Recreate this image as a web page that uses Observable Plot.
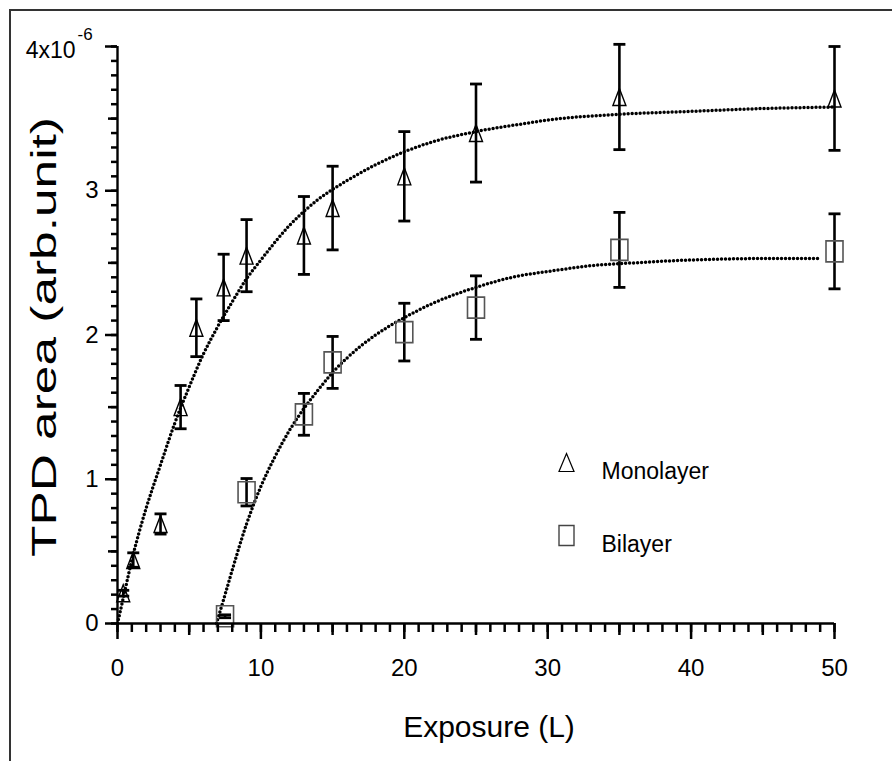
<!DOCTYPE html>
<html><head><meta charset="utf-8">
<script src="https://cdn.jsdelivr.net/npm/d3@7"></script>
<script src="https://cdn.jsdelivr.net/npm/@observablehq/plot@0.6"></script>
<style>
html,body{margin:0;padding:0;background:#fff;}
#wrap{position:relative;width:892px;height:761px;overflow:hidden;}
#frame{position:absolute;left:9px;top:9px;width:900px;height:800px;border-top:2px solid #333;border-left:2px solid #333;box-sizing:border-box;pointer-events:none;}
#chart{position:absolute;left:0;top:0;}
</style></head><body>
<div id="wrap"><div id="chart"></div><div id="frame"></div></div>
<script>
// Monolayer (triangles): exposure (L), TPD area (x10^-6 arb.unit), error
const monoX   = [0.4, 1.1, 3, 4.4, 5.5, 7.4, 9, 13, 15, 20, 25, 35, 50];
const monoY   = [0.21, 0.44, 0.69, 1.50, 2.05, 2.33, 2.55, 2.69, 2.88, 3.10, 3.40, 3.65, 3.64];
const monoErr = [0.02, 0.05, 0.07, 0.15, 0.20, 0.23, 0.25, 0.27, 0.29, 0.31, 0.34, 0.365, 0.36];
// Bilayer (squares)
const biX   = [7.5, 9, 13, 15, 20, 25, 35, 50];
const biY   = [0.05, 0.91, 1.45, 1.81, 2.02, 2.19, 2.59, 2.58];
const biErr = [0.01, 0.095, 0.145, 0.18, 0.20, 0.22, 0.26, 0.26];
// Fit curves (dotted)
const monoFitX = [0, 0.5, 1, 1.5, 2, 3, 4, 5, 6, 7, 8, 9, 10, 12, 14, 16, 18, 20, 22, 25, 28, 30, 35, 40, 45, 50];
const monoFitY = [0, 0.22, 0.44, 0.63, 0.80, 1.10, 1.39, 1.64, 1.87, 2.06, 2.23, 2.39, 2.52, 2.76, 2.94, 3.07, 3.18, 3.27, 3.34, 3.41, 3.46, 3.49, 3.53, 3.55, 3.57, 3.58];
const biFitX = [6.9, 7.5, 8, 9, 10, 11, 12, 13, 14, 15, 16, 18, 20, 22, 25, 28, 30, 33, 36, 40, 45, 49];
const biFitY = [0, 0.20, 0.37, 0.69, 0.95, 1.16, 1.34, 1.49, 1.62, 1.74, 1.84, 2.00, 2.12, 2.22, 2.33, 2.41, 2.44, 2.48, 2.50, 2.52, 2.53, 2.53];
// Axis ticks and labels
const xMajor = [0, 10, 20, 30, 40, 50];
const xMid = [5, 15, 25, 35, 45];
const yMajor = [0, 1, 2, 3, 4];
const yLabels = [0, 1, 2, 3];
const yTopLabel = "4x10";
const yTopExp = "-6";
const xTitle = "Exposure (L)";
const yTitle = "TPD area (arb.unit)";
const seriesNames = ["Monolayer", "Bilayer"];

const mono = monoX.map((x, i) => ({x, y: monoY[i], e: monoErr[i]}));
const bi = biX.map((x, i) => ({x, y: biY[i], e: biErr[i]}));
const monoFit = monoFitX.map((x, i) => ({x, y: monoFitY[i]}));
const biFit = biFitX.map((x, i) => ({x, y: biFitY[i]}));
const xMinor = d3.range(0, 51, 1);
const yMinor = d3.range(0, 41, 1).map(d => d / 10);
const yMid = [0.5, 1.5, 2.5, 3.5];

const tri = (w, h) => ({draw(ctx) { ctx.moveTo(0, -h / 2); ctx.lineTo(w / 2, h / 2); ctx.lineTo(-w / 2, h / 2); ctx.closePath(); }});
const rect = (w, h) => ({draw(ctx) { ctx.moveTo(-w / 2, -h / 2); ctx.lineTo(w / 2, -h / 2); ctx.lineTo(w / 2, h / 2); ctx.lineTo(-w / 2, h / 2); ctx.closePath(); }});
const cap = {draw(ctx) { ctx.moveTo(-6, 0); ctx.lineTo(6, 0); }};

const errMarks = (data) => [
  Plot.ruleX(data, {x: "x", y1: d => d.y - d.e, y2: d => d.y + d.e, stroke: "black", strokeWidth: 2.6}),
  Plot.dot(data, {x: "x", y: d => d.y + d.e, symbol: cap, r: 5, stroke: "black", strokeWidth: 2.8, fill: "none"}),
  Plot.dot(data, {x: "x", y: d => d.y - d.e, symbol: cap, r: 5, stroke: "black", strokeWidth: 2.8, fill: "none"})
];
const dotted = {stroke: "black", strokeWidth: 3.5, strokeDasharray: "0 4", strokeLinecap: "round", curve: "monotone-x"};
const font = "'Liberation Sans', Arial, sans-serif";

const chart = Plot.plot({
  width: 892, height: 761,
  marginLeft: 117, marginRight: 58, marginTop: 46, marginBottom: 138,
  style: {fontFamily: font, color: "black", background: "white"},
  x: {domain: [0, 50]},
  y: {domain: [0, 4]},
  marks: [
    Plot.line(monoFit, {x: "x", y: "y", ...dotted}),
    Plot.line(biFit, {x: "x", y: "y", ...dotted}),
    ...errMarks(mono),
    ...errMarks(bi),
    Plot.dot(mono, {x: "x", y: "y", symbol: tri(13, 17), r: 5, stroke: "black", strokeWidth: 1.4, fill: "none"}),
    Plot.dot(bi, {x: "x", y: "y", symbol: rect(17, 21), r: 5, stroke: "#555", strokeWidth: 1.6, fill: "none"}),
    // axes
    Plot.ruleY([0], {stroke: "black", strokeWidth: 2.4}),
    Plot.ruleX([0], {stroke: "black", strokeWidth: 2.4}),
    Plot.axisX({ticks: xMinor, tickSize: 9, tickFormat: () => "", strokeWidth: 2.5, label: null}),
    Plot.axisX({ticks: xMid, tickSize: 12, tickFormat: () => "", strokeWidth: 2.5, label: null}),
    Plot.axisX({ticks: xMajor, tickSize: 16, tickFormat: () => "", strokeWidth: 2.5, label: null}),
    Plot.axisY({ticks: yMinor, tickSize: 6, tickFormat: () => "", strokeWidth: 2.5, label: null}),
    Plot.axisY({ticks: yMid, tickSize: 9, tickFormat: () => "", strokeWidth: 2.5, label: null}),
    Plot.axisY({ticks: yMajor, tickSize: 12, tickFormat: () => "", strokeWidth: 2.5, label: null}),
    // tick labels
    Plot.text(xMajor, {x: d => d, y: 0, text: d => String(d), dy: 45, fontSize: 24, fill: "black"}),
    Plot.text(yLabels, {x: 0, y: d => d, text: d => String(d), dx: -19, textAnchor: "end", fontSize: 24, fill: "black"}),
    Plot.text([yTopLabel], {x: 0, y: 4, text: d => d, dx: -42, dy: 4, textAnchor: "end", fontSize: 23, fill: "black"}),
    Plot.text([yTopExp], {x: 0, y: 4, text: d => d, dx: -40, dy: -12, textAnchor: "start", fontSize: 17, fill: "black"}),
    // titles
    Plot.text([xTitle], {frameAnchor: "bottom", text: d => d, dx: 13, dy: 113, fontSize: 30, fill: "black"}),
    Plot.text([yTitle], {frameAnchor: "left", text: d => d, rotate: -90, dx: -73, dy: 222, textAnchor: "start", fontSize: 35, fill: "black"}),
    // legend
    Plot.dot([seriesNames[0]], {frameAnchor: "top-left", dx: 449, dy: 416, symbol: tri(15, 18), r: 5, stroke: "black", strokeWidth: 1.2, fill: "none"}),
    Plot.dot([seriesNames[1]], {frameAnchor: "top-left", dx: 449, dy: 489, symbol: rect(15, 20), r: 5, stroke: "#444", strokeWidth: 1.4, fill: "none"}),
    Plot.text([seriesNames[0]], {frameAnchor: "top-left", text: d => d, dx: 484, dy: 416, textAnchor: "start", fontSize: 23, fill: "black"}),
    Plot.text([seriesNames[1]], {frameAnchor: "top-left", text: d => d, dx: 484, dy: 489, textAnchor: "start", fontSize: 23, fill: "black"})
  ]
});
document.getElementById("chart").appendChild(chart);
d3.select(chart).selectAll("text").filter(function() { return this.textContent === yTitle; })
  .attr("textLength", 440).attr("lengthAdjust", "spacingAndGlyphs");
</script>
</body></html>
